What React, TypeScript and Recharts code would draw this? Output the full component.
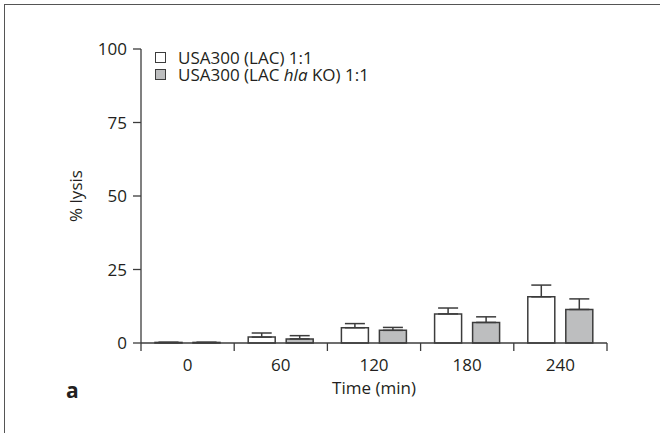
import React from 'react';
import { BarChart, Bar, XAxis, YAxis, ErrorBar, Legend } from 'recharts';

const times = ['0', '60', '120', '180', '240'];
const lacValues = [0.2, 2.0, 5.2, 9.9, 15.7];
const lacErrors = [0, 1.4, 1.4, 2.0, 4.0];
const koValues = [0.2, 1.4, 4.3, 7.0, 11.4];
const koErrors = [0, 1.1, 1.0, 1.9, 3.6];
const yTicks = [0, 25, 50, 75, 100];
const seriesOrder = ['lac', 'ko'];

const data = times.map((t, i) => ({
  time: t,
  lac: lacValues[i],
  lacErr: [0, lacErrors[i]],
  ko: koValues[i],
  koErr: [0, koErrors[i]],
}));

const FONT = '"Open Sans", sans-serif';
const INK = '#231f20';
const LINE = '#3c3c3c';
const GRAY = '#bdbebf';
const TICK_SIZE = 8;
const TICK_MARGIN = 8;

const XTick = (props: any) => {
  const { x, y, payload, index, visibleTicksCount } = props;
  const half = payload.offset || 0;
  const axisY = y - TICK_SIZE - TICK_MARGIN;
  return (
    <g>
      <line x1={x - half} x2={x - half} y1={axisY} y2={axisY + TICK_SIZE} stroke={LINE} strokeWidth={1.3} />
      {index === visibleTicksCount - 1 && (
        <line x1={x + half} x2={x + half} y1={axisY} y2={axisY + TICK_SIZE} stroke={LINE} strokeWidth={1.3} />
      )}
      <text x={x} y={y} dy="0.71em" textAnchor="middle" fill={INK} fontSize={17} fontFamily={FONT}>
        {payload.value}
      </text>
    </g>
  );
};

const renderLegend = (props: any) => {
  const items = [...(props.payload || [])].sort(
    (a: any, b: any) => seriesOrder.indexOf(a.dataKey) - seriesOrder.indexOf(b.dataKey)
  );
  return (
    <div style={{ fontFamily: FONT, fontSize: 17, lineHeight: '17px', color: INK }}>
      {items.map((it: any, i: number) => (
        <div key={i} style={{ display: 'flex', alignItems: 'center', height: 17, whiteSpace: 'nowrap' }}>
          <span
            style={{
              display: 'inline-block',
              width: 9,
              height: 9,
              border: `1.5px solid ${LINE}`,
              background: it.dataKey === 'ko' ? GRAY : '#ffffff',
              marginRight: 12,
            }}
          />
          {it.dataKey === 'ko' ? (
            <span>
              USA300 (LAC <i>hla</i> KO) 1:1
            </span>
          ) : (
            <span>USA300 (LAC) 1:1</span>
          )}
        </div>
      ))}
    </div>
  );
};

const XLabel = (props: any) => {
  const vb = props.viewBox;
  return (
    <text x={vb.x + vb.width / 2} y={vb.y + 51} textAnchor="middle" fill={INK} fontSize={17} fontFamily={FONT}>
      Time (min)
    </text>
  );
};

export default function App() {
  return (
    <div style={{ position: 'absolute', left: 0, top: 0, width: 660, height: 433, background: '#fff', overflow: 'hidden' }}>
      <div
        style={{
          position: 'absolute',
          left: 4,
          top: 4,
          width: 700,
          height: 500,
          borderTop: '1.3px solid #555',
          borderLeft: '1.3px solid #555',
        }}
      />
      <div
        style={{
          position: 'absolute',
          left: 66,
          top: 376,
          fontFamily: FONT,
          fontWeight: 'bold',
          fontSize: 21,
          color: INK,
        }}
      >
        a
      </div>
      <BarChart
        width={660}
        height={433}
        data={data}
        margin={{ top: 49, right: 53, left: 0, bottom: 60 }}
        barSize={27}
        barGap={11}
        style={{ position: 'absolute', left: 0, top: 0 }}
      >
        <XAxis
          dataKey="time"
          height={30}
          tickLine={false}
          axisLine={{ stroke: LINE, strokeWidth: 1.3 }}
          tickSize={TICK_SIZE}
          tickMargin={TICK_MARGIN}
          tick={<XTick />}
          interval={0}
          label={<XLabel />}
        />
        <YAxis
          width={141}
          domain={[0, 100]}
          ticks={yTicks}
          interval={0}
          axisLine={{ stroke: LINE, strokeWidth: 1.3 }}
          tickLine={{ stroke: LINE, strokeWidth: 1.3 }}
          tickSize={8}
          tickMargin={6}
          tick={{ fill: INK, fontSize: 17, fontFamily: FONT }}
          label={{
            value: '% lysis',
            angle: -90,
            position: 'insideLeft',
            offset: 76,
            style: { fill: INK, fontSize: 17, fontFamily: FONT, textAnchor: 'middle' },
          }}
        />
        <Legend
          layout="horizontal"
          align="center"
          verticalAlign="middle"
          content={renderLegend}
          wrapperStyle={{ top: 49, left: 155, width: 300 }}
        />
        <Bar dataKey="lac" name="USA300 (LAC) 1:1" fill="#ffffff" stroke={LINE} strokeWidth={1.5} isAnimationActive={false}>
          <ErrorBar dataKey="lacErr" width={10} stroke={LINE} strokeWidth={1.5} direction="y" isAnimationActive={false} />
        </Bar>
        <Bar dataKey="ko" name="USA300 (LAC hla KO) 1:1" fill={GRAY} stroke={LINE} strokeWidth={1.5} isAnimationActive={false}>
          <ErrorBar dataKey="koErr" width={10} stroke={LINE} strokeWidth={1.5} direction="y" isAnimationActive={false} />
        </Bar>
      </BarChart>
    </div>
  );
}
